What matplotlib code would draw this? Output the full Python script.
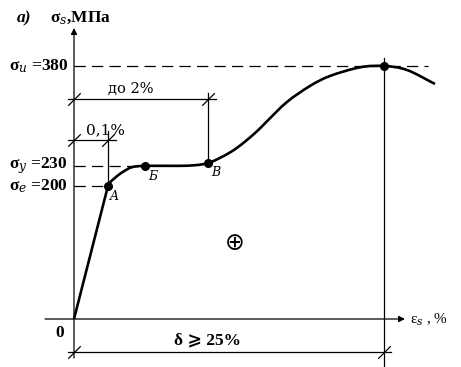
import matplotlib
matplotlib.use("Agg")
import matplotlib.pyplot as plt
from matplotlib.path import Path
from matplotlib.patches import PathPatch

# ---- data (schematic strain units, stress in MPa) ----
strain = [0, 34, 41, 49, 58, 71, 104, 121, 134, 146, 158, 169, 183, 193,
          213, 236, 256, 286, 310, 333, 361]
stress = [0, 200, 212, 221, 228, 230, 230, 231, 234, 242, 252, 264, 282, 297,
          326, 350, 365, 378, 380, 374, 353]

point_names = ["A", "Б", "В"]
point_idx = [1, 5, 8]
peak_idx = 18

levels = [380, 230, 200]
level_labels = ["σ$_u$ =380", "σ$_y$ =230", "σ$_e$ =200"]

dim_labels = ["0,1%", "до 2%", "δ ⩾ 25%"]

plt.rcParams['mathtext.fontset'] = 'dejavuserif'
plt.rcParams['font.family'] = ['DejaVu Serif', 'DejaVu Sans']

PXY = 0.6658  # px per MPa
fig = plt.figure(figsize=(4.61, 3.67), dpi=100)
ax = fig.add_axes([0, 0, 1, 1])
ax.set_xlim(-74, 387)
ax.set_ylim(-48 / PXY, 319 / PXY)
ax.axis('off')

def Y(py):
    return (319 - py) / PXY

lw_thin = 0.9
slash = [(-1, -1), (1, 1)]
serif_b = dict(family=['Liberation Serif', 'DejaVu Serif', 'DejaVu Sans'],
               fontweight='bold')

# axes with arrows
ax.annotate('', xy=(0, Y(28)), xytext=(0, Y(358)),
            arrowprops=dict(arrowstyle='-|>', lw=lw_thin, color='k',
                            mutation_scale=9, shrinkA=0, shrinkB=0))
ax.annotate('', xy=(331, 0), xytext=(-29, 0),
            arrowprops=dict(arrowstyle='-|>', lw=lw_thin, color='k',
                            mutation_scale=9, shrinkA=0, shrinkB=0))

xA = strain[point_idx[0]]
xB = strain[point_idx[1]]
xV = strain[point_idx[2]]
xP = strain[peak_idx]
dash = (0, (9, 5))
ax.plot([0, 354], [levels[0]] * 2, color='k', lw=lw_thin, ls=dash)
ax.plot([0, xB], [levels[1]] * 2, color='k', lw=lw_thin, ls=dash)
ax.plot([0, xA], [levels[2]] * 2, color='k', lw=lw_thin, ls=dash)

# curve: straight elastic part, then smooth cubic path through the points
ax.plot(strain[:2], stress[:2], color='k', lw=1.9, solid_capstyle='butt')
pts = list(zip(strain[1:], stress[1:]))
verts = [pts[0]]
codes = [Path.MOVETO]
n = len(pts)
for i in range(n - 1):
    if i == 0:
        d = (strain[1] - strain[0], stress[1] - stress[0])
        p0 = (pts[0][0] - d[0] * 0.15, pts[0][1] - d[1] * 0.15)
    else:
        p0 = pts[i - 1]
    p1, p2 = pts[i], pts[i + 1]
    p3 = pts[i + 2] if i + 2 < n else (2 * p2[0] - p1[0], 2 * p2[1] - p1[1])
    c1 = (p1[0] + (p2[0] - p0[0]) / 6, p1[1] + (p2[1] - p0[1]) / 6)
    c2 = (p2[0] - (p3[0] - p1[0]) / 6, p2[1] - (p3[1] - p1[1]) / 6)
    verts += [c1, c2, p2]
    codes += [Path.CURVE4] * 3
ax.add_patch(PathPatch(Path(verts, codes), fill=False, lw=1.9, ec='k',
                       joinstyle='round', capstyle='butt'))

ax.plot([strain[i] for i in point_idx + [peak_idx]],
        [stress[i] for i in point_idx + [peak_idx]],
        'o', color='k', ms=5.5)

# level labels
for lv, lab in zip(levels, level_labels):
    ax.text(-6, lv, lab, ha='right', va='center', fontsize=12.5, **serif_b)
ax.text(-14, Y(333), "0", ha='center', va='center', fontsize=12.5, **serif_b)

# point labels
pl_pos = [(xA + 6, Y(196)), (xB + 8, Y(176)), (xV + 8, Y(173))]
for name, (px, py) in zip(point_names, pl_pos):
    ax.text(px, py, name, ha='center', va='center', fontsize=9,
            style='italic')

# dimension 0,1%
yd1 = Y(140)
ax.plot([-6, xA + 8], [yd1, yd1], color='k', lw=lw_thin)
ax.plot([xA, xA], [Y(131), stress[point_idx[0]]], color='k', lw=lw_thin)
ax.plot([0, xA], [yd1, yd1], ls='none', marker=slash, ms=9, mew=lw_thin,
        color='k')
ax.text(31, Y(137), dim_labels[0], ha='center', va='bottom', fontsize=11)

# dimension до 2%
yd2 = Y(99)
ax.plot([-6, xV + 8], [yd2, yd2], color='k', lw=lw_thin)
ax.plot([xV, xV], [Y(93), stress[point_idx[2]]], color='k', lw=lw_thin)
ax.plot([0, xV], [yd2, yd2], ls='none', marker=slash, ms=9, mew=lw_thin,
        color='k')
ax.text(57, Y(96), dim_labels[1], ha='center', va='bottom', fontsize=10.5)

# dimension delta
yd3 = Y(352)
ax.plot([-6, xP + 7], [yd3, yd3], color='k', lw=lw_thin)
ax.plot([xP, xP], [Y(58), Y(367)], color='k', lw=lw_thin)
ax.plot([0, xP], [yd3, yd3], ls='none', marker=slash, ms=9, mew=lw_thin,
        color='k')
ax.text(133, Y(348), dim_labels[2], ha='center', va='bottom', fontsize=12.5,
        **serif_b)

# axis titles
ax.text(-24, Y(18), "σ$_s$,МПа", ha='left', va='center', fontsize=12.5,
        **serif_b)
ax.text(-57, Y(18), "a)", ha='left', va='center', fontsize=12.5,
        style='italic', **serif_b)
ax.text(336, Y(320), "ε$_s$ , %", ha='left', va='center', fontsize=11,
        family=['Liberation Serif', 'DejaVu Serif'])

# plus sign
ax.text(161, Y(243), "⊕", ha='center', va='center', fontsize=17,
        family=['DejaVu Sans'])

fig.savefig("out.png", dpi=100)
